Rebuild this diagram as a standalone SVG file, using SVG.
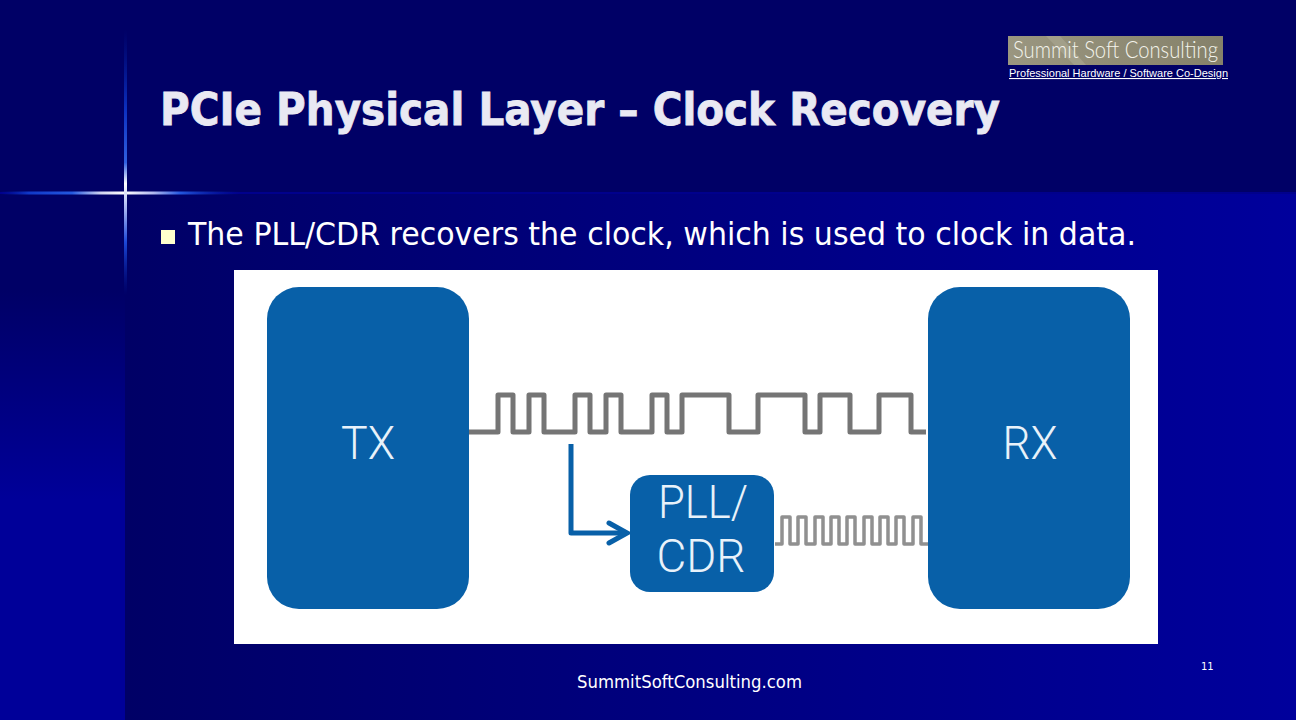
<svg xmlns="http://www.w3.org/2000/svg" width="1296" height="720" viewBox="0 0 1296 720">
<defs>
<linearGradient id="bgMain" gradientUnits="userSpaceOnUse" x1="125" y1="0" x2="1296" y2="0"><stop offset="0" stop-color="#000066"/><stop offset="0.45" stop-color="#00007e"/><stop offset="1" stop-color="#00009c"/></linearGradient>
<linearGradient id="bgLeft" gradientUnits="userSpaceOnUse" x1="0" y1="290" x2="0" y2="500"><stop offset="0" stop-color="#000066"/><stop offset="1" stop-color="#000099"/></linearGradient>
<linearGradient id="hLine" x1="0" y1="0" x2="1" y2="0"><stop offset="0" stop-color="#0020a0" stop-opacity="0"/><stop offset="0.12" stop-color="#1038c8"/><stop offset="0.3" stop-color="#2458e0"/><stop offset="0.42" stop-color="#d0d4f0"/><stop offset="0.52" stop-color="#ffffff"/><stop offset="0.64" stop-color="#b0b8f0"/><stop offset="0.75" stop-color="#2458e0"/><stop offset="1" stop-color="#0020a0" stop-opacity="0"/></linearGradient>
<linearGradient id="vLine" x1="0" y1="0" x2="0" y2="1"><stop offset="0" stop-color="#0020a0" stop-opacity="0"/><stop offset="0.3" stop-color="#0c30c0"/><stop offset="0.5" stop-color="#3060e0"/><stop offset="0.58" stop-color="#ffffff"/><stop offset="0.68" stop-color="#a0b0f0"/><stop offset="0.8" stop-color="#1c48d8"/><stop offset="1" stop-color="#0020a0" stop-opacity="0"/></linearGradient>
<linearGradient id="logoBand" x1="0" y1="0" x2="1" y2="0"><stop offset="0" stop-color="#9a9680"/><stop offset="1" stop-color="#85816a"/></linearGradient>
<filter id="soft" x="-5%" y="-20%" width="110%" height="140%"><feGaussianBlur stdDeviation="0.6"/></filter>
<marker id="arrow" viewBox="0 0 24 26" refX="21" refY="13" markerUnits="userSpaceOnUse" markerWidth="24" markerHeight="26" orient="auto"><path d="M3 3 L21 13 L3 23" fill="none" stroke="#0860a8" stroke-width="5" stroke-linecap="round" stroke-linejoin="miter"/></marker>
</defs>
<style>
.block{fill:#0860a8}
.blockText{font-family:Roboto,"Liberation Sans",Arial,sans-serif;font-weight:300;font-size:46px;fill:#e8f2fa;text-anchor:middle}
.wave{fill:none;stroke:#757575;stroke-width:5;stroke-linejoin:round}
.clock{fill:none;stroke:#909090;stroke-width:3.500;stroke-linejoin:round;filter:url(#soft)}
.slide{font-family:"DejaVu Sans",Verdana,sans-serif}
</style>
<rect id="background" width="1296" height="720" fill="url(#bgMain)"/>
<rect x="0" y="193" width="125" height="527" fill="url(#bgLeft)"/>
<rect x="0" y="0" width="1296" height="193" fill="#000066"/>
<rect x="0" y="192" width="1296" height="2" fill="#00008c"/>
<rect x="0" y="191.500" width="240" height="3" fill="url(#hLine)"/>
<rect x="124" y="30" width="3" height="265" fill="url(#vLine)"/>
<text class="slide" x="160" y="124.500" font-size="44" font-weight="700" fill="#e9e9f3" stroke="#e9e9f3" stroke-width="0.800" textLength="840" lengthAdjust="spacingAndGlyphs">PCIe Physical Layer – Clock Recovery</text>
<rect x="161" y="230" width="14" height="14" fill="#ffffcc"/>
<text class="slide" x="188" y="245" font-size="32" fill="#ffffff" textLength="948" lengthAdjust="spacingAndGlyphs">The PLL/CDR recovers the clock, which is used to clock in data.</text>
<g id="logo">
<rect x="1008" y="36" width="215" height="29" fill="url(#logoBand)"/>
<path d="M1046 36H1060L1086 65H1074Z" fill="#a8a590" opacity="0.700"/>
<text x="1013" y="58" font-family="Lato,Liberation Sans,Arial,sans-serif" font-weight="300" font-size="23" fill="#f4f4ec" textLength="205" lengthAdjust="spacingAndGlyphs">Summit Soft Consulting</text>
<text x="1009" y="77" font-family="Liberation Sans,Arial,sans-serif" font-size="11" fill="#ffffff" text-decoration="underline" textLength="219" lengthAdjust="spacingAndGlyphs">Professional Hardware / Software Co-Design</text>
</g>
<rect id="panel" x="234" y="270" width="924" height="374" fill="#ffffff"/>
<g id="connectors">
<path class="wave" d="M469 432H498V395H513V432H529V395H544V432H575V395H590V432H606V395H621V432H652V395H667V432H682V395H729V432H758V395H805V432H820V395H850V432H879V395H911V432H926"/>
<path class="clock" d="M775 544H782V517H790V544H798V517H806V544H815V517H823V544H831V517H839V544H847V517H855V544H864V517H872V544H880V517H888V544H896V517H904V544H913V517H921V544H929"/>
<path d="M571 444V533H627" fill="none" stroke="#0860a8" stroke-width="5" stroke-linejoin="round" marker-end="url(#arrow)"/>
</g>
<g id="tx"><rect class="block" x="267" y="287" width="202" height="322" rx="32"/><text class="blockText" x="368" y="459" textLength="54" lengthAdjust="spacingAndGlyphs">TX</text></g>
<g id="rx"><rect class="block" x="928" y="287" width="202" height="322" rx="32"/><text class="blockText" x="1030" y="459" textLength="55" lengthAdjust="spacingAndGlyphs">RX</text></g>
<g id="pll"><rect class="block" x="630" y="475" width="144" height="117" rx="20"/><text class="blockText" x="703" y="518" textLength="90" lengthAdjust="spacingAndGlyphs">PLL/</text><text class="blockText" x="701" y="572" textLength="89" lengthAdjust="spacingAndGlyphs">CDR</text></g>
<text class="slide" x="577" y="688" font-size="18" fill="#ffffff" textLength="225" lengthAdjust="spacingAndGlyphs">SummitSoftConsulting.com</text>
<text class="slide" x="1201" y="670" font-size="10" fill="#ffffff">11</text>
</svg>
